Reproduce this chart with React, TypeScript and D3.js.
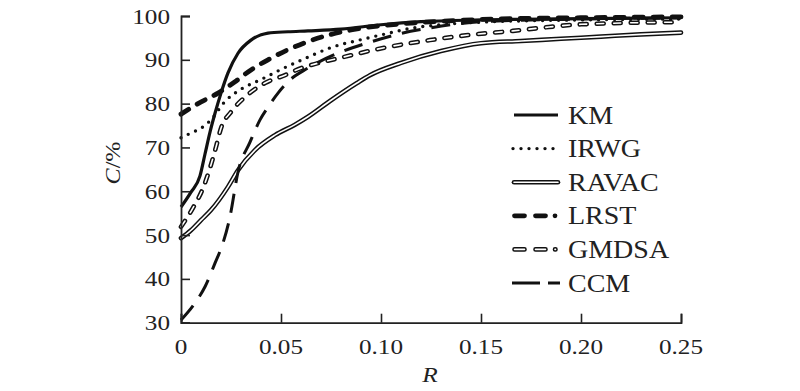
import React, { useEffect, useRef } from "react"
import * as d3 from "d3"

// curve readings (R, C%)
const kmR = [0, 0.005, 0.0095, 0.012, 0.0145, 0.017, 0.02, 0.0235, 0.0285, 0.035, 0.0435, 0.0535, 0.0635, 0.08, 0.1, 0.12, 0.15, 0.2, 0.25]
const kmC = [56.4, 59.8, 63.5, 68.5, 73.5, 77.8, 82.4, 87, 91.5, 94.5, 96.1, 96.4, 96.6, 97, 98, 98.7, 99.1, 99.4, 99.6]

const irwgR = [0, 0.005, 0.01, 0.015, 0.022, 0.03, 0.04, 0.05, 0.063, 0.075, 0.09, 0.105, 0.115, 0.13, 0.15, 0.2, 0.25]
const irwgC = [72.2, 73.3, 74.4, 76.3, 80.5, 83.3, 85.5, 87.8, 90.5, 92.8, 94.6, 96.2, 97.2, 98, 98.6, 99.1, 99.3]

const ravacR = [0, 0.005, 0.01, 0.015, 0.0235, 0.0285, 0.037, 0.047, 0.057, 0.0635, 0.0745, 0.088, 0.0945, 0.11, 0.13, 0.15, 0.17, 0.19, 0.21, 0.23, 0.25]
const ravacC = [49.3, 51.1, 53.4, 55.7, 61, 64.8, 69.4, 72.8, 75.2, 77, 80.6, 84.7, 86.5, 89.3, 92, 93.8, 94.3, 94.8, 95.3, 95.8, 96.2]

const lrstR = [0, 0.0085, 0.0185, 0.027, 0.035, 0.0435, 0.0535, 0.0625, 0.075, 0.09, 0.11, 0.13, 0.15, 0.2, 0.25]
const lrstC = [77.6, 80, 82.4, 85, 87.7, 90, 92.3, 94, 95.8, 97.2, 98.2, 98.8, 99.2, 99.6, 99.8]

const gmdsaR = [0, 0.006, 0.011, 0.0145, 0.0175, 0.02, 0.025, 0.032, 0.042, 0.052, 0.06, 0.065, 0.081, 0.101, 0.1145, 0.1245, 0.1445, 0.166, 0.18, 0.2, 0.25]
const gmdsaC = [51.9, 56.2, 60.7, 65.3, 70.1, 74.4, 78.1, 81.5, 84.7, 86.5, 88.1, 88.8, 90.6, 92.7, 93.8, 94.5, 95.7, 96.6, 97.3, 98.1, 98.6]

const ccmR = [0, 0.007, 0.012, 0.017, 0.021, 0.0245, 0.0285, 0.0345, 0.0395, 0.0435, 0.0485, 0.0545, 0.063, 0.08, 0.095, 0.11, 0.125, 0.15, 0.2, 0.25]
const ccmC = [30.6, 34.5, 38.2, 43.6, 48.2, 54.2, 64.4, 71.2, 76.3, 79.2, 82.4, 85.4, 88, 91.8, 94.1, 96, 97.3, 98.7, 99.3, 99.6]

const names = ["KM", "IRWG", "RAVAC", "LRST", "GMDSA", "CCM"]
const xTicks = [0, 0.05, 0.1, 0.15, 0.2, 0.25]
const xTickLabels = ["0", "0.05", "0.10", "0.15", "0.20", "0.25"]
const yTicks = [30, 40, 50, 60, 70, 80, 90, 100]

const W = 800
const H = 391
const FONT = "'Liberation Serif', 'Times New Roman', serif"

// draw one series in its style; legend samples get their own dash layout
function drawStyled(g: any, name: string, d: string, legend = false) {
  const p = () => g.append("path").attr("d", d).attr("fill", "none")
  if (name === "KM") {
    p().attr("stroke", "#111").attr("stroke-width", 3.2)
  } else if (name === "IRWG") {
    p().attr("stroke", "#111").attr("stroke-width", 3.4)
      .attr("stroke-linecap", "round").attr("stroke-dasharray", "0 8")
  } else if (name === "RAVAC") {
    p().attr("stroke", "#111").attr("stroke-width", 4.6).attr("stroke-linecap", "round")
    p().attr("stroke", "#fff").attr("stroke-width", 1.6).attr("stroke-linecap", "round")
  } else if (name === "LRST") {
    p().attr("stroke", "#111").attr("stroke-width", 4.8)
      .attr("stroke-linecap", "round").attr("stroke-dasharray", legend ? "10 11 10 9.5 0 30" : "9 10")
  } else if (name === "GMDSA") {
    const da = legend ? "10 11 10 9.5 0.5 30" : "7 10"
    p().attr("stroke", "#111").attr("stroke-width", 4.6)
      .attr("stroke-linecap", "round").attr("stroke-dasharray", da)
    p().attr("stroke", "#fff").attr("stroke-width", 1.6)
      .attr("stroke-linecap", "round").attr("stroke-dasharray", da)
  } else {
    p().attr("stroke", "#111").attr("stroke-width", 3)
      .attr("stroke-dasharray", legend ? "28 8 12 30" : "19 11")
  }
}

export default function App() {
  const ref = useRef<SVGSVGElement>(null)

  useEffect(() => {
    const svg = d3.select(ref.current)
    svg.selectAll("*").remove()

    const x = d3.scaleLinear().domain([0, 0.25]).range([181, 681])
    const y = d3.scaleLinear().domain([30, 100]).range([322.7, 16])

    const series = [
      { name: "KM", r: kmR, c: kmC },
      { name: "IRWG", r: irwgR, c: irwgC },
      { name: "RAVAC", r: ravacR, c: ravacC },
      { name: "LRST", r: lrstR, c: lrstC },
      { name: "GMDSA", r: gmdsaR, c: gmdsaC },
      { name: "CCM", r: ccmR, c: ccmC },
    ]

    const line = d3.line<number[]>()
      .x(p => x(p[0]))
      .y(p => y(p[1]))
      .curve(d3.curveMonotoneX)

    const plot = svg.append("g")
    // back to front
    const order = ["RAVAC", "GMDSA", "CCM", "IRWG", "LRST", "KM"]
    order.forEach(n => {
      const s = series.find(z => z.name === n)!
      const pts = s.r.map((v, i) => [v, s.c[i]])
      drawStyled(plot, n, line(pts) as string)
    })

    // axes, ticks pointing inwards
    const xAxis = d3.axisBottom(x).tickValues(xTicks).tickSize(-9).tickFormat(() => "")
    const yAxis = d3.axisLeft(y).tickValues(yTicks).tickSize(-9).tickFormat(() => "")
    const gx = svg.append("g").attr("transform", "translate(0," + y(30) + ")").call(xAxis)
    const gy = svg.append("g").attr("transform", "translate(" + x(0) + ",0)").call(yAxis)
    ;[gx, gy].forEach(g => {
      g.select(".domain").attr("stroke", "#222").attr("stroke-width", 1.8)
      g.selectAll(".tick line").attr("stroke", "#222").attr("stroke-width", 1.6)
    })

    // tick labels (the original type is a bit wide)
    xTicks.forEach((t, i) => {
      svg.append("text")
        .attr("transform", "translate(" + x(t) + ",354) scale(1.2,1)")
        .attr("text-anchor", "middle")
        .attr("font-family", FONT).attr("font-size", 21).attr("fill", "#222")
        .text(xTickLabels[i])
    })
    yTicks.forEach(t => {
      svg.append("text")
        .attr("transform", "translate(170," + (y(t) + 7.5) + ") scale(1.2,1)")
        .attr("text-anchor", "end")
        .attr("font-family", FONT).attr("font-size", 21).attr("fill", "#222")
        .text(t)
    })

    // axis titles
    svg.append("text")
      .attr("transform", "translate(430,382) scale(1.15,1)")
      .attr("text-anchor", "middle")
      .attr("font-family", FONT).attr("font-size", 22).attr("font-style", "italic").attr("fill", "#222")
      .text("R")
    const yt = svg.append("text")
      .attr("transform", "translate(120,163) rotate(-90) scale(1.1,1)")
      .attr("text-anchor", "middle")
      .attr("font-family", FONT).attr("font-size", 22).attr("fill", "#222")
    yt.append("tspan").attr("font-style", "italic").text("C")
    yt.append("tspan").text("/%")

    // legend
    const legY = d3.scalePoint<string>().domain(names).range([115, 283])
    names.forEach(n => {
      const ly = legY(n)!
      const g = svg.append("g")
      let d = "M514," + ly + "L558," + ly
      if (n === "LRST" || n === "GMDSA") d = "M514.5," + ly + "L558," + ly
      if (n === "CCM") d = "M512," + ly + "L560," + ly
      if (n === "IRWG") d = "M513," + ly + "L558," + ly
      drawStyled(g, n, d, true)
      svg.append("text")
        .attr("transform", "translate(568," + (ly + 8.5) + ") scale(1.12,1)")
        .attr("font-family", FONT).attr("font-size", 25).attr("fill", "#222")
        .text(n)
    })
  }, [])

  return (
    <svg ref={ref} width={W} height={H} style={{ position: "absolute", left: 0, top: 0, background: "#fff" }} />
  )
}
